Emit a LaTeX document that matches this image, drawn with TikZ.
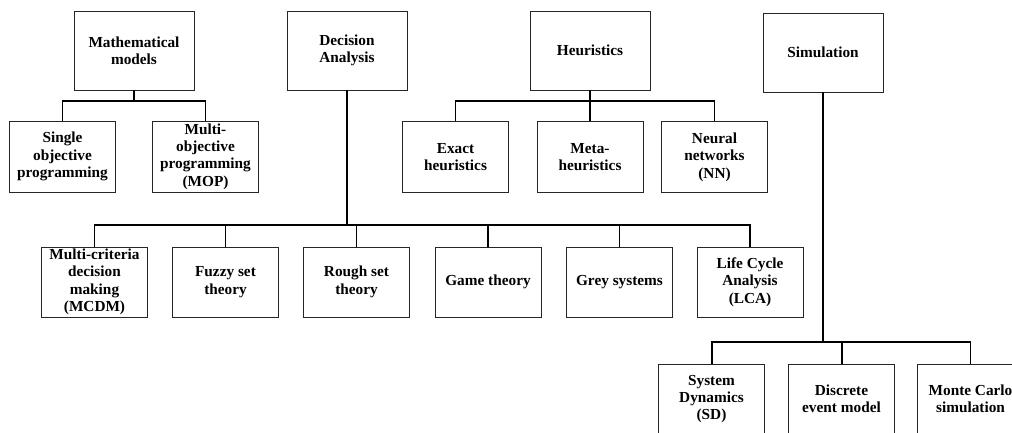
\documentclass[tikz,border=0pt]{standalone}
\usepackage{fontspec}
\setmainfont{Liberation Serif}
\begin{document}
\begin{tikzpicture}[x=1pt,y=-1pt,
  box/.style={draw=black!85,line width=0.8pt,inner sep=0pt,align=center,
    font=\bfseries\fontsize{15.3}{17.4}\selectfont},
  topbox/.style={box,minimum width=120pt,minimum height=79pt},
  subbox/.style={box,minimum width=106pt,minimum height=71pt},
  leafbox/.style={box,minimum width=106pt,minimum height=70pt},
  link/.style={line width=1.3pt},
  trunk/.style={line width=2pt}]
\clip (0,0) rectangle (1012,432);
\fill[white] (0,0) rectangle (1012,432);

% top-level categories
\node[topbox] (mm)   at (134,50.5) {Mathematical\\models};
\node[topbox] (da)   at (347,50.5) {Decision\\Analysis};
\node[topbox] (heur) at (590,50.5) {Heuristics};
\node[topbox] (sim)  at (823,52.5) {Simulation};

% mathematical models
\node[subbox] (single) at (62.5,156.5)  {Single\\objective\\programming};
\node[subbox] (mop)    at (205.5,156.5) {Multi-\\objective\\programming\\(MOP)};

% heuristics
\node[subbox] (exact) at (455.5,157) {Exact\\heuristics};
\node[subbox] (meta)  at (590,157)   {Meta-\\heuristics};
\node[subbox] (nn)    at (714.5,157) {Neural\\networks\\(NN)};

% decision analysis
\node[leafbox] (mcdm)  at (94.5,282)  {Multi-criteria\\decision\\making\\(MCDM)};
\node[leafbox] (fuzzy) at (225.5,282) {Fuzzy set\\theory};
\node[leafbox] (rough) at (356.5,282) {Rough set\\theory};
\node[leafbox] (game)  at (488,282)   {Game theory};
\node[leafbox] (grey)  at (619.5,282) {Grey systems};
\node[leafbox] (lca)   at (750,282)   {Life Cycle\\Analysis\\(LCA)};

% simulation
\node[leafbox] (sd)    at (711.5,399) {System\\Dynamics\\(SD)};
\node[leafbox] (disc)  at (841.5,399) {Discrete\\event model};
\node[leafbox] (mc)    at (970.5,399) {Monte Carlo\\simulation};

% connectors: mathematical models
\coordinate (mmbar) at (134,101);
\draw[link] (mm.south) -- (mmbar);
\draw[link] (mmbar) -| (single.north);
\draw[link] (mmbar) -| (mop.north);

% connectors: heuristics
\coordinate (hbar) at (590,101);
\draw[link] (heur.south) -- (hbar);
\draw[link] (hbar) -| (exact.north);
\draw[link] (hbar) -| (nn.north);
\draw[link] (hbar) -- (meta.north);

% connectors: decision analysis
\coordinate (dabar) at (347,225);
\draw[trunk] (da.south) -- (dabar);
\draw[link] (dabar) -| (mcdm.north);
\draw[link] (dabar) -| (lca.north);
\draw[link] (fuzzy.north) -- (fuzzy.north |- dabar);
\draw[link] (rough.north) -- (rough.north |- dabar);
\draw[link] (game.north) -- (game.north |- dabar);
\draw[link] (grey.north) -- (grey.north |- dabar);

% connectors: simulation
\coordinate (simbar) at (823,342);
\draw[link] (sim.south) -- (simbar);
\draw[trunk] (simbar) -| (sd.north);
\draw[link] (simbar) -| (mc.north);
\draw[trunk] (disc.north) -- (disc.north |- simbar);
\end{tikzpicture}
\end{document}
